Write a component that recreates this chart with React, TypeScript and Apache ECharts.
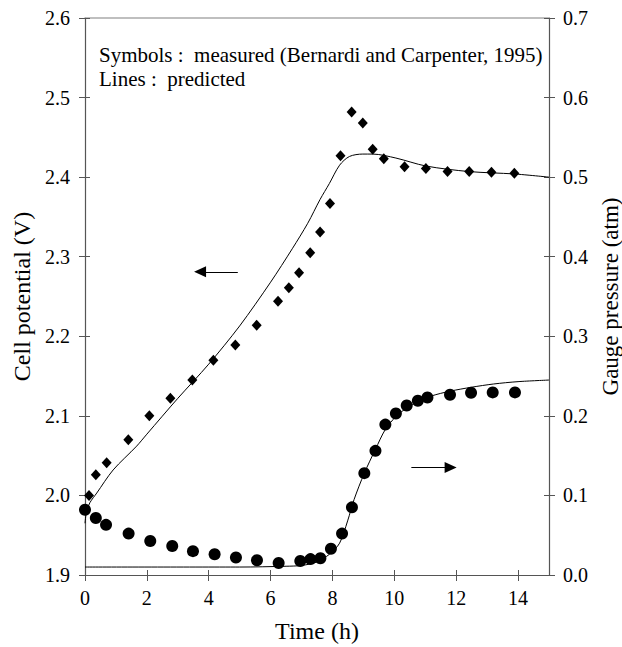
import React, { useEffect, useRef } from "react";
import * as echarts from "echarts";

// Measured cell potential (V) — diamonds
const vMeasTime = [0.13, 0.35, 0.7, 1.4, 2.08, 2.76, 3.47, 4.15, 4.86, 5.55, 6.24, 6.59, 6.92, 7.28, 7.6, 7.92, 8.26, 8.62, 8.98, 9.3, 9.66, 10.33, 11.02, 11.72, 12.42, 13.14, 13.88];
const vMeas = [2.0, 2.026, 2.041, 2.07, 2.1, 2.122, 2.145, 2.17, 2.189, 2.214, 2.244, 2.261, 2.28, 2.305, 2.331, 2.367, 2.427, 2.482, 2.468, 2.435, 2.423, 2.413, 2.411, 2.407, 2.407, 2.406, 2.405];

// Predicted cell potential (V) — line
const vPredTime = [0, 0.05, 0.16, 0.38, 0.91, 1.67, 2.0, 3.0, 4.0, 5.0, 6.0, 6.7, 7.2, 7.6, 7.9, 8.23, 8.55, 8.98, 9.3, 10.05, 11.02, 12.42, 13.88, 15.0];
const vPred = [1.965, 1.98, 1.991, 2.003, 2.032, 2.062, 2.077, 2.122, 2.165, 2.213, 2.268, 2.31, 2.342, 2.372, 2.392, 2.415, 2.426, 2.429, 2.429, 2.424, 2.414, 2.407, 2.404, 2.4];

// Measured gauge pressure (atm) — circles
const pMeasTime = [0.0, 0.35, 0.68, 1.41, 2.11, 2.82, 3.49, 4.19, 4.88, 5.56, 6.26, 6.96, 7.29, 7.61, 7.95, 8.31, 8.63, 9.03, 9.39, 9.71, 10.05, 10.4, 10.76, 11.07, 11.8, 12.48, 13.18, 13.9];
const pMeas = [0.082, 0.0716, 0.063, 0.052, 0.0427, 0.0364, 0.03, 0.026, 0.022, 0.0185, 0.015, 0.0176, 0.02, 0.021, 0.033, 0.052, 0.085, 0.128, 0.156, 0.189, 0.203, 0.213, 0.219, 0.223, 0.2265, 0.229, 0.2295, 0.2295];

// Predicted gauge pressure (atm) — line
const pPredTime = [0, 5.0, 6.5, 7.0, 7.47, 7.9, 8.23, 8.49, 8.7, 9.03, 9.39, 9.71, 10.05, 10.4, 10.77, 11.2, 11.8, 12.5, 13.2, 14.0, 15.0];
const pPred = [0.01, 0.01, 0.011, 0.012, 0.016, 0.026, 0.04, 0.068, 0.095, 0.128, 0.158, 0.183, 0.199, 0.21, 0.218, 0.225, 0.231, 0.236, 0.24, 0.243, 0.245];

const xTicks = [0, 2, 4, 6, 8, 10, 12, 14];

// Arrow annotations (data coordinates)
const leftArrow = { from: [4.94, 2.281], to: [3.72, 2.281] };
const rightArrow = { from: [10.55, 0.135], to: [11.82, 0.135] };

const FONT = "Liberation Serif";
const zip = (xs: number[], ys: number[]) => xs.map((x, i) => [x, ys[i]]);

export default function App() {
  const ref = useRef<HTMLDivElement>(null);
  useEffect(() => {
    if (!ref.current) return;
    const chart = echarts.init(ref.current, null, { renderer: "svg" });
    const labelStyle = () => ({ fontFamily: FONT, fontSize: 20, color: "#000" });
    const axisLine = () => ({ show: true, onZero: false, lineStyle: { color: "#555", width: 1.2 } });
    const noLine = () => ({ show: false, onZero: false });
    const tickStyle = () => ({ color: "#555", width: 1 });
    const nameStyle = (size: number) => ({ fontFamily: FONT, fontSize: size, color: "#000" });
    const baseX = () => ({ type: "value", min: 0, max: 15, splitLine: { show: false } });
    const baseV = () => ({ type: "value", min: 1.9, max: 2.6, interval: 0.1, splitLine: { show: false } });
    const baseP = () => ({ type: "value", min: 0, max: 0.7, interval: 0.1, splitLine: { show: false } });
    chart.setOption({
      animation: false,
      backgroundColor: "#fff",
      grid: { left: 85, right: 73, top: 18, bottom: 72, outerBoundsMode: "none", containLabel: false },
      xAxis: [
        {
          ...baseX(),
          position: "bottom",
          axisLine: axisLine(),
          axisTick: { show: true, inside: false, length: 6, customValues: xTicks, lineStyle: tickStyle() },
          axisLabel: { ...labelStyle(), margin: 13, customValues: xTicks, formatter: (v: number) => String(v) },
          name: "Time (h)",
          nameLocation: "middle",
          nameGap: 44,
          nameTextStyle: nameStyle(24),
        },
        {
          ...baseX(),
          position: "bottom",
          axisLine: noLine(),
          axisTick: { show: true, inside: true, length: 5, customValues: xTicks, lineStyle: tickStyle() },
          axisLabel: { show: false },
        },
        {
          ...baseX(),
          position: "top",
          axisLine: { show: true, onZero: false, lineStyle: { color: "#aaa", width: 1.5 } },
          axisTick: { show: false },
          axisLabel: { show: false },
        },
      ],
      yAxis: [
        {
          ...baseV(),
          position: "left",
          axisLine: axisLine(),
          axisTick: { show: true, inside: false, length: 6, lineStyle: tickStyle() },
          axisLabel: { ...labelStyle(), margin: 15, formatter: (v: number) => v.toFixed(1) },
          name: "Cell potential (V)",
          nameLocation: "middle",
          nameGap: 47,
          nameTextStyle: nameStyle(24),
        },
        {
          ...baseP(),
          position: "right",
          axisLine: axisLine(),
          axisTick: { show: true, inside: false, length: 6, lineStyle: tickStyle() },
          axisLabel: { ...labelStyle(), margin: 14, formatter: (v: number) => v.toFixed(1) },
          name: "Gauge pressure (atm)",
          nameLocation: "middle",
          nameGap: 35,
          nameRotate: 90,
          nameTextStyle: nameStyle(23),
        },
        {
          ...baseV(),
          position: "left",
          axisLine: noLine(),
          axisTick: { show: true, inside: true, length: 5, lineStyle: tickStyle() },
          axisLabel: { show: false },
        },
        {
          ...baseP(),
          position: "right",
          axisLine: noLine(),
          axisTick: { show: true, inside: true, length: 5, lineStyle: tickStyle() },
          axisLabel: { show: false },
        },
      ],
      graphic: [
        {
          type: "text",
          left: 99,
          top: 43,
          style: {
            text: "Symbols :  measured (Bernardi and Carpenter, 1995)\nLines :  predicted",
            fontFamily: FONT,
            fontSize: 21,
            fill: "#000",
            lineHeight: 24,
          },
        },
      ],
      series: [
        {
          type: "line",
          xAxisIndex: 0,
          yAxisIndex: 0,
          data: zip(vPredTime, vPred),
          showSymbol: false,
          smooth: 0.3,
          lineStyle: { color: "#000", width: 1 },
          silent: true,
          z: 3,
          markLine: {
            silent: true,
            animation: false,
            label: { show: false },
            lineStyle: { color: "#000", width: 1, type: "solid" },
            symbol: ["none", "triangle"],
            symbolSize: [11, 12],
            data: [[{ coord: leftArrow.from }, { coord: leftArrow.to }]],
          },
        },
        {
          type: "scatter",
          xAxisIndex: 0,
          yAxisIndex: 0,
          data: zip(vMeasTime, vMeas),
          symbol: "diamond",
          symbolSize: [10, 11],
          itemStyle: { color: "#000", opacity: 1 },
          z: 4,
        },
        {
          type: "line",
          xAxisIndex: 0,
          yAxisIndex: 1,
          data: zip(pPredTime, pPred),
          showSymbol: false,
          smooth: 0.3,
          lineStyle: { color: "#000", width: 1 },
          silent: true,
          z: 3,
          markLine: {
            silent: true,
            animation: false,
            label: { show: false },
            lineStyle: { color: "#000", width: 1, type: "solid" },
            symbol: ["none", "triangle"],
            symbolSize: [11, 12],
            data: [[{ coord: rightArrow.from }, { coord: rightArrow.to }]],
          },
        },
        {
          type: "scatter",
          xAxisIndex: 0,
          yAxisIndex: 1,
          data: zip(pMeasTime, pMeas),
          symbol: "circle",
          symbolSize: 12,
          itemStyle: { color: "#000", opacity: 1 },
          z: 4,
        },
      ],
    });
    return () => chart.dispose();
  }, []);
  return (
    <div
      ref={ref}
      style={{ position: "absolute", left: 0, top: 0, width: 622, height: 647, background: "#fff" }}
    />
  );
}
